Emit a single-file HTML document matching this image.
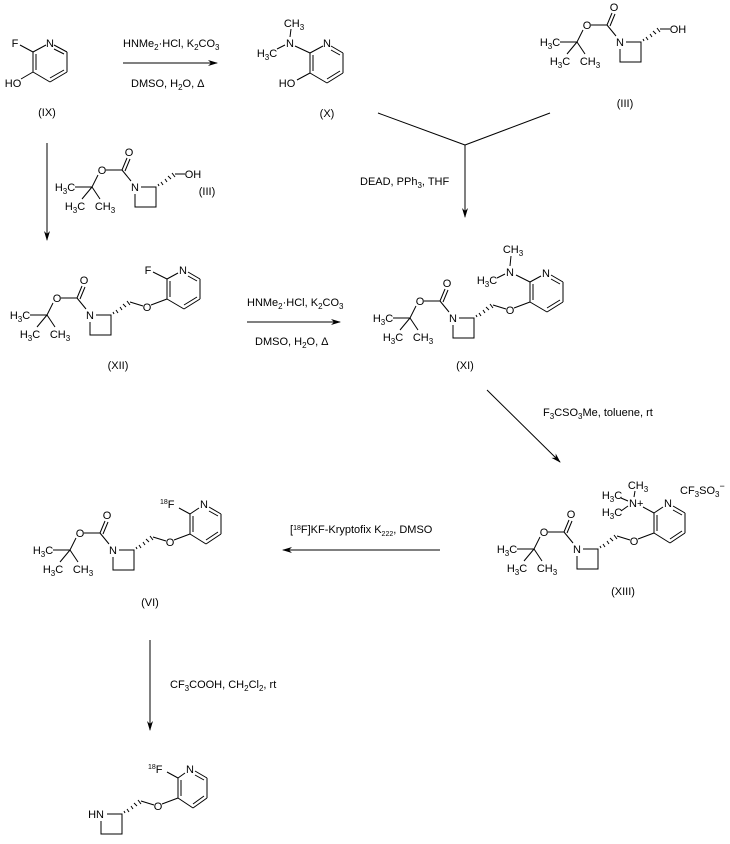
<!DOCTYPE html>
<html><head><meta charset="utf-8"><style>
html,body{margin:0;padding:0;background:#fff;}
svg{display:block;font-family:"Liberation Sans",Arial,sans-serif;font-size:11px;}
line,polyline{stroke:#000;stroke-width:1;fill:none;}
text{fill:#000;}
.m{text-anchor:middle;}
</style></head><body>
<svg width="730" height="844" viewBox="0 0 730 844">
<defs>
<marker id="ah" markerWidth="10" markerHeight="8" refX="9" refY="4" orient="auto" markerUnits="userSpaceOnUse">
<path d="M0,1 L10,4 L0,7 L3,4 Z" fill="#000"/>
</marker>
</defs>

<!-- IX -->
<g>
<line x1="33" y1="52" x2="33" y2="72"/><line x1="36" y1="54" x2="36" y2="70"/>
<line x1="33" y1="52" x2="46" y2="45"/>
<line x1="54" y1="45" x2="67" y2="52"/><line x1="54" y1="49" x2="64" y2="54"/>
<line x1="67" y1="52" x2="67" y2="72"/>
<line x1="67" y1="72" x2="50" y2="82"/><line x1="64" y1="70" x2="50" y2="78"/>
<line x1="50" y1="82" x2="33" y2="72"/>
<line x1="33" y1="52" x2="20" y2="45"/>
<line x1="33" y1="72" x2="21" y2="79"/>
<text class="m" x="15" y="47">F</text>
<text class="m" x="50" y="47">N</text>
<text class="m" x="13" y="87">HO</text>
<text class="m" x="47" y="116">(IX)</text>
</g>

<!-- arrow 1 -->
<line x1="123" y1="63" x2="217" y2="63" marker-end="url(#ah)"/>
<text x="123" y="47">HNMe<tspan font-size="8" dy="3">2</tspan><tspan dy="-3">·HCl, K</tspan><tspan font-size="8" dy="3">2</tspan><tspan dy="-3">CO</tspan><tspan font-size="8" dy="3">3</tspan></text>
<text x="131" y="87">DMSO, H<tspan font-size="8" dy="3">2</tspan><tspan dy="-3">O, Δ</tspan></text>

<!-- X -->
<g transform="translate(233,89)">
<line x1="77" y1="-36" x2="77" y2="-16"/><line x1="80" y1="-34" x2="80" y2="-18"/>
<line x1="77" y1="-36" x2="90" y2="-43"/>
<line x1="98" y1="-43" x2="110" y2="-36"/><line x1="98" y1="-39" x2="107" y2="-34"/>
<line x1="110" y1="-36" x2="110" y2="-16"/>
<line x1="110" y1="-16" x2="94" y2="-6"/><line x1="107" y1="-18" x2="94" y2="-10"/>
<line x1="94" y1="-6" x2="77" y2="-16"/>
<line x1="77" y1="-36" x2="62" y2="-43"/>
<line x1="77" y1="-16" x2="64" y2="-9"/>
<line x1="57" y1="-52" x2="58" y2="-60"/>
<line x1="52" y1="-44" x2="44" y2="-40"/>
<text class="m" x="94" y="-42">N</text>
<text class="m" x="57" y="-42">N</text>
<text class="m" x="61" y="-62">CH<tspan font-size="8" dy="3">3</tspan></text>
<text class="m" x="34" y="-32">H<tspan font-size="8" dy="3">3</tspan><tspan dy="-3">C</tspan></text>
<text class="m" x="54" y="-2">HO</text>
<text class="m" x="94" y="28">(X)</text>
</g>

<!-- III top -->
<g transform="translate(620,42)">
<line x1="-4" y1="-6" x2="-13" y2="-17"/>
<line x1="-13" y1="-17" x2="-8" y2="-29"/><line x1="-10" y1="-16" x2="-5" y2="-28"/>
<line x1="-13" y1="-17" x2="-29" y2="-17"/>
<line x1="-37" y1="-12" x2="-43" y2="0"/>
<line x1="-43" y1="0" x2="-60" y2="0"/>
<line x1="-43" y1="0" x2="-53" y2="12"/>
<line x1="-43" y1="0" x2="-35" y2="12"/>
<polyline points="6,0 21,0 21,20 0,20 0,7"/>
<g stroke="#000"><line x1="24" y1="-1" x2="23" y2="-3"/><line x1="28" y1="-2" x2="26" y2="-5"/><line x1="32" y1="-5" x2="30" y2="-8"/><line x1="36" y1="-8" x2="33" y2="-11"/><line x1="40" y1="-10" x2="37" y2="-14"/></g>
<line x1="40" y1="-13" x2="50" y2="-13"/>
<text class="m" x="0" y="4">N</text>
<text class="m" x="-6" y="-31">O</text>
<text class="m" x="-33" y="-13">O</text>
<text class="m" x="-70" y="4">H<tspan font-size="8" dy="3">3</tspan><tspan dy="-3">C</tspan></text>
<text class="m" x="-60" y="23">H<tspan font-size="8" dy="3">3</tspan><tspan dy="-3">C</tspan></text>
<text class="m" x="-30" y="23">CH<tspan font-size="8" dy="3">3</tspan></text>
<text class="m" x="58" y="-9">OH</text>
<text class="m" x="5" y="65">(III)</text>
</g>

<!-- Y lines -->
<line x1="378" y1="113" x2="465" y2="145"/>
<line x1="550" y1="113" x2="465" y2="145"/>
<line x1="465" y1="145" x2="465" y2="217" marker-end="url(#ah)"/>
<text x="360" y="185">DEAD, PPh<tspan font-size="8" dy="3">3</tspan><tspan dy="-3">, THF</tspan></text>

<!-- down arrow IX -->
<line x1="47" y1="143" x2="47" y2="240" marker-end="url(#ah)"/>

<!-- III middle -->
<g transform="translate(135,187)">
<line x1="-4" y1="-6" x2="-13" y2="-17"/>
<line x1="-13" y1="-17" x2="-8" y2="-29"/><line x1="-10" y1="-16" x2="-5" y2="-28"/>
<line x1="-13" y1="-17" x2="-29" y2="-17"/>
<line x1="-37" y1="-12" x2="-43" y2="0"/>
<line x1="-43" y1="0" x2="-60" y2="0"/>
<line x1="-43" y1="0" x2="-53" y2="12"/>
<line x1="-43" y1="0" x2="-35" y2="12"/>
<polyline points="6,0 21,0 21,20 0,20 0,7"/>
<g><line x1="24" y1="-1" x2="23" y2="-3"/><line x1="28" y1="-2" x2="26" y2="-5"/><line x1="32" y1="-5" x2="30" y2="-8"/><line x1="36" y1="-8" x2="33" y2="-11"/><line x1="40" y1="-10" x2="37" y2="-14"/></g>
<line x1="40" y1="-13" x2="50" y2="-13"/>
<text class="m" x="0" y="4">N</text>
<text class="m" x="-6" y="-31">O</text>
<text class="m" x="-33" y="-13">O</text>
<text class="m" x="-70" y="4">H<tspan font-size="8" dy="3">3</tspan><tspan dy="-3">C</tspan></text>
<text class="m" x="-60" y="23">H<tspan font-size="8" dy="3">3</tspan><tspan dy="-3">C</tspan></text>
<text class="m" x="-30" y="23">CH<tspan font-size="8" dy="3">3</tspan></text>
<text class="m" x="58" y="-9">OH</text>
<text class="m" x="72" y="8">(III)</text>
</g>

<!-- XII -->
<g transform="translate(90,315)">
<line x1="-4" y1="-6" x2="-13" y2="-17"/>
<line x1="-13" y1="-17" x2="-8" y2="-29"/><line x1="-10" y1="-16" x2="-5" y2="-28"/>
<line x1="-13" y1="-17" x2="-29" y2="-17"/>
<line x1="-37" y1="-12" x2="-43" y2="0"/>
<line x1="-43" y1="0" x2="-60" y2="0"/>
<line x1="-43" y1="0" x2="-53" y2="12"/>
<line x1="-43" y1="0" x2="-35" y2="12"/>
<polyline points="6,0 21,0 21,20 0,20 0,7"/>
<g><line x1="24" y1="-1" x2="23" y2="-3"/><line x1="28" y1="-2" x2="26" y2="-5"/><line x1="32" y1="-5" x2="30" y2="-8"/><line x1="36" y1="-8" x2="33" y2="-11"/><line x1="40" y1="-10" x2="37" y2="-14"/></g>
<line x1="40" y1="-13" x2="53" y2="-9"/>
<line x1="61" y1="-10" x2="77" y2="-16"/>
<line x1="77" y1="-36" x2="77" y2="-16"/><line x1="80" y1="-34" x2="80" y2="-18"/>
<line x1="77" y1="-36" x2="88" y2="-42"/>
<line x1="98" y1="-43" x2="110" y2="-36"/><line x1="98" y1="-39" x2="107" y2="-34"/>
<line x1="110" y1="-36" x2="110" y2="-16"/>
<line x1="110" y1="-16" x2="94" y2="-6"/><line x1="107" y1="-18" x2="94" y2="-10"/>
<line x1="94" y1="-6" x2="77" y2="-16"/>
<line x1="77" y1="-36" x2="63" y2="-43"/>
<text class="m" x="0" y="4">N</text>
<text class="m" x="-6" y="-31">O</text>
<text class="m" x="-33" y="-13">O</text>
<text class="m" x="-70" y="4">H<tspan font-size="8" dy="3">3</tspan><tspan dy="-3">C</tspan></text>
<text class="m" x="-60" y="23">H<tspan font-size="8" dy="3">3</tspan><tspan dy="-3">C</tspan></text>
<text class="m" x="-30" y="23">CH<tspan font-size="8" dy="3">3</tspan></text>
<text class="m" x="57" y="-4">O</text>
<text class="m" x="93" y="-41">N</text>
<text class="m" x="58" y="-41">F</text>
<text class="m" x="28" y="54">(XII)</text>
</g>

<!-- arrow XII->XI -->
<line x1="247" y1="322" x2="340" y2="322" marker-end="url(#ah)"/>
<text x="247" y="306">HNMe<tspan font-size="8" dy="3">2</tspan><tspan dy="-3">·HCl, K</tspan><tspan font-size="8" dy="3">2</tspan><tspan dy="-3">CO</tspan><tspan font-size="8" dy="3">3</tspan></text>
<text x="255" y="345">DMSO, H<tspan font-size="8" dy="3">2</tspan><tspan dy="-3">O, Δ</tspan></text>

<!-- XI -->
<g transform="translate(453,318)">
<line x1="-4" y1="-6" x2="-13" y2="-17"/>
<line x1="-13" y1="-17" x2="-8" y2="-29"/><line x1="-10" y1="-16" x2="-5" y2="-28"/>
<line x1="-13" y1="-17" x2="-29" y2="-17"/>
<line x1="-37" y1="-12" x2="-43" y2="0"/>
<line x1="-43" y1="0" x2="-60" y2="0"/>
<line x1="-43" y1="0" x2="-53" y2="12"/>
<line x1="-43" y1="0" x2="-35" y2="12"/>
<polyline points="6,0 21,0 21,20 0,20 0,7"/>
<g><line x1="24" y1="-1" x2="23" y2="-3"/><line x1="28" y1="-2" x2="26" y2="-5"/><line x1="32" y1="-5" x2="30" y2="-8"/><line x1="36" y1="-8" x2="33" y2="-11"/><line x1="40" y1="-10" x2="37" y2="-14"/></g>
<line x1="40" y1="-13" x2="53" y2="-9"/>
<line x1="61" y1="-10" x2="77" y2="-16"/>
<line x1="77" y1="-36" x2="77" y2="-16"/><line x1="80" y1="-34" x2="80" y2="-18"/>
<line x1="77" y1="-36" x2="88" y2="-42"/>
<line x1="98" y1="-43" x2="110" y2="-36"/><line x1="98" y1="-39" x2="107" y2="-34"/>
<line x1="110" y1="-36" x2="110" y2="-16"/>
<line x1="110" y1="-16" x2="94" y2="-6"/><line x1="107" y1="-18" x2="94" y2="-10"/>
<line x1="94" y1="-6" x2="77" y2="-16"/>
<line x1="77" y1="-36" x2="63" y2="-43"/>
<line x1="57" y1="-52" x2="58" y2="-62"/>
<line x1="52" y1="-44" x2="44" y2="-40"/>
<text class="m" x="0" y="4">N</text>
<text class="m" x="-6" y="-31">O</text>
<text class="m" x="-33" y="-13">O</text>
<text class="m" x="-70" y="4">H<tspan font-size="8" dy="3">3</tspan><tspan dy="-3">C</tspan></text>
<text class="m" x="-60" y="23">H<tspan font-size="8" dy="3">3</tspan><tspan dy="-3">C</tspan></text>
<text class="m" x="-30" y="23">CH<tspan font-size="8" dy="3">3</tspan></text>
<text class="m" x="57" y="-4">O</text>
<text class="m" x="93" y="-41">N</text>
<text class="m" x="57" y="-42">N</text>
<text class="m" x="60" y="-65">CH<tspan font-size="8" dy="3">3</tspan></text>
<text class="m" x="34" y="-34">H<tspan font-size="8" dy="3">3</tspan><tspan dy="-3">C</tspan></text>
<text class="m" x="12" y="51">(XI)</text>
</g>

<!-- diagonal arrow -->
<line x1="487" y1="390" x2="560" y2="462" marker-end="url(#ah)"/>
<text x="543" y="416">F<tspan font-size="8" dy="3">3</tspan><tspan dy="-3">CSO</tspan><tspan font-size="8" dy="3">3</tspan><tspan dy="-3">Me, toluene, rt</tspan></text>

<!-- XIII -->
<g transform="translate(577,549)">
<line x1="-4" y1="-6" x2="-13" y2="-17"/>
<line x1="-13" y1="-17" x2="-8" y2="-29"/><line x1="-10" y1="-16" x2="-5" y2="-28"/>
<line x1="-13" y1="-17" x2="-29" y2="-17"/>
<line x1="-37" y1="-12" x2="-43" y2="0"/>
<line x1="-43" y1="0" x2="-60" y2="0"/>
<line x1="-43" y1="0" x2="-53" y2="12"/>
<line x1="-43" y1="0" x2="-35" y2="12"/>
<polyline points="6,0 21,0 21,20 0,20 0,7"/>
<g><line x1="24" y1="-1" x2="23" y2="-3"/><line x1="28" y1="-2" x2="26" y2="-5"/><line x1="32" y1="-5" x2="30" y2="-8"/><line x1="36" y1="-8" x2="33" y2="-11"/><line x1="40" y1="-10" x2="37" y2="-14"/></g>
<line x1="40" y1="-13" x2="53" y2="-9"/>
<line x1="61" y1="-10" x2="77" y2="-16"/>
<line x1="77" y1="-36" x2="77" y2="-16"/><line x1="80" y1="-34" x2="80" y2="-18"/>
<line x1="77" y1="-36" x2="86" y2="-42"/>
<line x1="96" y1="-43" x2="108" y2="-36"/><line x1="96" y1="-39" x2="105" y2="-34"/>
<line x1="108" y1="-36" x2="108" y2="-16"/>
<line x1="108" y1="-16" x2="93" y2="-6"/><line x1="105" y1="-18" x2="93" y2="-10"/>
<line x1="93" y1="-6" x2="77" y2="-16"/>
<line x1="77" y1="-36" x2="66" y2="-42"/>
<line x1="57" y1="-52" x2="58" y2="-58"/>
<line x1="51" y1="-48" x2="44" y2="-51"/>
<line x1="51" y1="-43" x2="44" y2="-38"/>
<text class="m" x="0" y="4">N</text>
<text class="m" x="-6" y="-31">O</text>
<text class="m" x="-33" y="-13">O</text>
<text class="m" x="-70" y="4">H<tspan font-size="8" dy="3">3</tspan><tspan dy="-3">C</tspan></text>
<text class="m" x="-60" y="23">H<tspan font-size="8" dy="3">3</tspan><tspan dy="-3">C</tspan></text>
<text class="m" x="-30" y="23">CH<tspan font-size="8" dy="3">3</tspan></text>
<text class="m" x="57" y="-4">O</text>
<text class="m" x="91" y="-42">N</text>
<text x="52" y="-42">N+</text>
<text class="m" x="61" y="-60">CH<tspan font-size="8" dy="3">3</tspan></text>
<text class="m" x="35" y="-50">H<tspan font-size="8" dy="3">3</tspan><tspan dy="-3">C</tspan></text>
<text class="m" x="35" y="-33">H<tspan font-size="8" dy="3">3</tspan><tspan dy="-3">C</tspan></text>
<text x="103" y="-55">CF<tspan font-size="8" dy="3">3</tspan><tspan dy="-3">SO</tspan><tspan font-size="8" dy="3">3</tspan><tspan font-size="9" dy="-8">−</tspan></text>
<text class="m" x="46" y="46">(XIII)</text>
</g>

<!-- arrow XIII->VI -->
<line x1="440" y1="550" x2="283" y2="550" marker-end="url(#ah)"/>
<text x="290" y="533">[<tspan font-size="7" dy="-3">18</tspan><tspan dy="3">F]KF-Kryptofix K</tspan><tspan font-size="7" dy="3">222</tspan><tspan dy="-3">, DMSO</tspan></text>

<!-- VI -->
<g transform="translate(113,550)">
<line x1="-4" y1="-6" x2="-13" y2="-17"/>
<line x1="-13" y1="-17" x2="-8" y2="-29"/><line x1="-10" y1="-16" x2="-5" y2="-28"/>
<line x1="-13" y1="-17" x2="-29" y2="-17"/>
<line x1="-37" y1="-12" x2="-43" y2="0"/>
<line x1="-43" y1="0" x2="-60" y2="0"/>
<line x1="-43" y1="0" x2="-53" y2="12"/>
<line x1="-43" y1="0" x2="-35" y2="12"/>
<polyline points="6,0 21,0 21,20 0,20 0,7"/>
<g><line x1="24" y1="-1" x2="23" y2="-3"/><line x1="28" y1="-2" x2="26" y2="-5"/><line x1="32" y1="-5" x2="30" y2="-8"/><line x1="36" y1="-8" x2="33" y2="-11"/><line x1="40" y1="-10" x2="37" y2="-14"/></g>
<line x1="40" y1="-13" x2="53" y2="-9"/>
<line x1="61" y1="-10" x2="77" y2="-16"/>
<line x1="77" y1="-36" x2="77" y2="-16"/><line x1="80" y1="-34" x2="80" y2="-18"/>
<line x1="77" y1="-36" x2="86" y2="-42"/>
<line x1="96" y1="-43" x2="108" y2="-36"/><line x1="96" y1="-39" x2="105" y2="-34"/>
<line x1="108" y1="-36" x2="108" y2="-16"/>
<line x1="108" y1="-16" x2="93" y2="-6"/><line x1="105" y1="-18" x2="93" y2="-10"/>
<line x1="93" y1="-6" x2="77" y2="-16"/>
<line x1="77" y1="-36" x2="66" y2="-42"/>
<text class="m" x="0" y="4">N</text>
<text class="m" x="-6" y="-31">O</text>
<text class="m" x="-33" y="-13">O</text>
<text class="m" x="-70" y="4">H<tspan font-size="8" dy="3">3</tspan><tspan dy="-3">C</tspan></text>
<text class="m" x="-60" y="23">H<tspan font-size="8" dy="3">3</tspan><tspan dy="-3">C</tspan></text>
<text class="m" x="-30" y="23">CH<tspan font-size="8" dy="3">3</tspan></text>
<text class="m" x="57" y="-4">O</text>
<text class="m" x="91" y="-42">N</text>
<text x="47" y="-42"><tspan font-size="7" dy="-4">18</tspan><tspan dy="4">F</tspan></text>
<text class="m" x="37" y="56">(VI)</text>
</g>

<!-- arrow VI->final -->
<line x1="150" y1="640" x2="150" y2="730" marker-end="url(#ah)"/>
<text x="170" y="688">CF<tspan font-size="8" dy="3">3</tspan><tspan dy="-3">COOH, CH</tspan><tspan font-size="8" dy="3">2</tspan><tspan dy="-3">Cl</tspan><tspan font-size="8" dy="3">2</tspan><tspan dy="-3">, rt</tspan></text>

<!-- final -->
<g transform="translate(101,814)">
<polyline points="6,0 21,0 21,20 0,20 0,7"/>
<g><line x1="24" y1="-1" x2="23" y2="-3"/><line x1="28" y1="-2" x2="26" y2="-5"/><line x1="32" y1="-5" x2="30" y2="-8"/><line x1="36" y1="-8" x2="33" y2="-11"/><line x1="40" y1="-10" x2="37" y2="-14"/></g>
<line x1="40" y1="-13" x2="53" y2="-9"/>
<line x1="61" y1="-10" x2="77" y2="-16"/>
<line x1="77" y1="-36" x2="77" y2="-16"/><line x1="80" y1="-34" x2="80" y2="-18"/>
<line x1="77" y1="-36" x2="84" y2="-41"/>
<line x1="94" y1="-43" x2="106" y2="-36"/><line x1="94" y1="-39" x2="103" y2="-34"/>
<line x1="106" y1="-36" x2="106" y2="-16"/>
<line x1="106" y1="-16" x2="92" y2="-6"/><line x1="103" y1="-18" x2="92" y2="-10"/>
<line x1="92" y1="-6" x2="77" y2="-16"/>
<line x1="77" y1="-36" x2="66" y2="-42"/>
<text class="m" x="-5" y="4">HN</text>
<text class="m" x="57" y="-4">O</text>
<text class="m" x="89" y="-41">N</text>
<text x="47" y="-41"><tspan font-size="7" dy="-4">18</tspan><tspan dy="4">F</tspan></text>
</g>
</svg>
</body></html>
